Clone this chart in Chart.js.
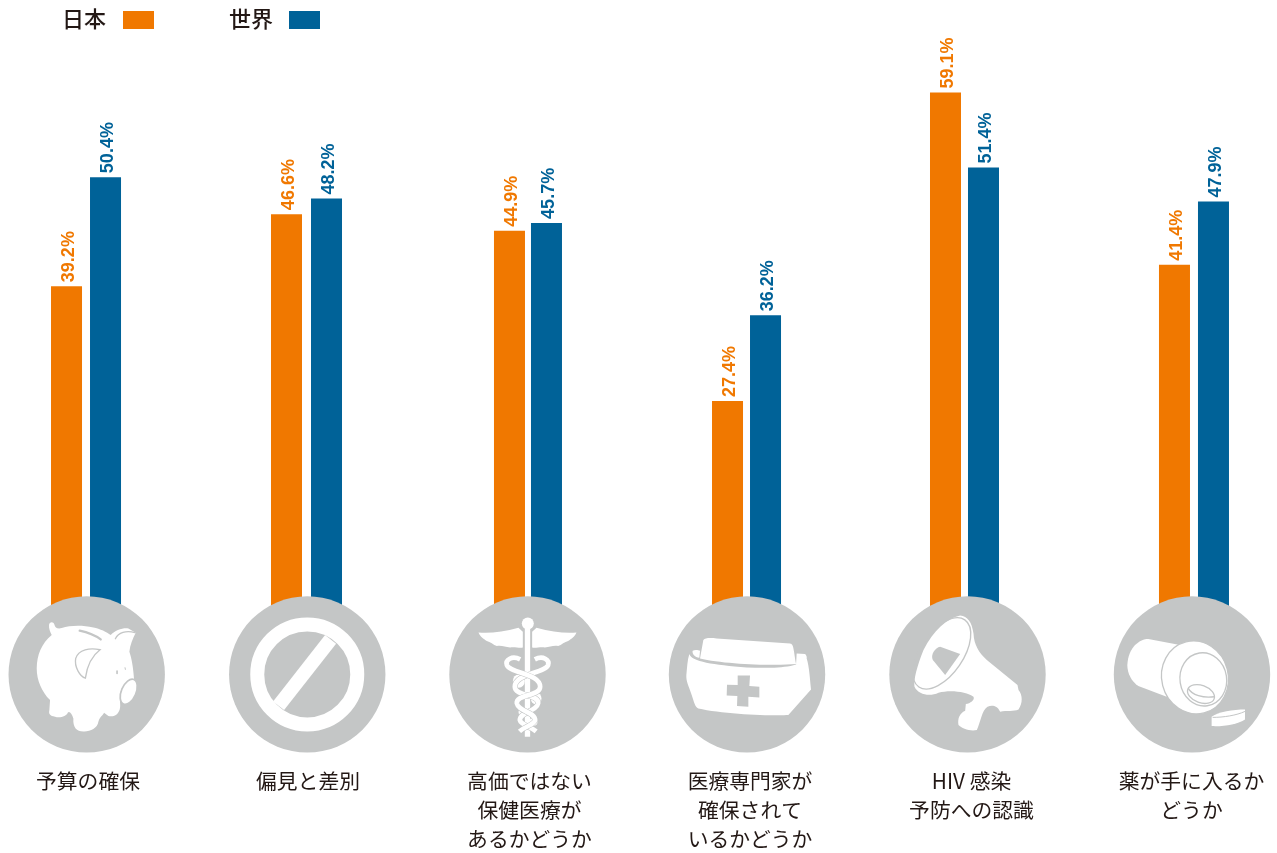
<!DOCTYPE html>
<html lang="ja">
<head>
<meta charset="utf-8">
<style>html,body{margin:0;padding:0;background:#fff}#w{width:1277px;height:853px;position:relative}</style>
<script src="https://cdn.jsdelivr.net/npm/chart.js@4"></script>
</head>
<body>
<div id="w"><canvas id="c"></canvas></div>
<script>
const categories = [
  ['予算の確保'],
  ['偏見と差別'],
  ['高価ではない','保健医療が','あるかどうか'],
  ['医療専門家が','確保されて','いるかどうか'],
  ['HIV 感染','予防への認識'],
  ['薬が手に入るか','どうか']
];
const japan = [39.2, 46.6, 44.9, 27.4, 59.1, 41.4];
const world = [50.4, 48.2, 45.7, 36.2, 51.4, 47.9];
const seriesNames = ['日本', '世界'];

const ORANGE = '#F07800', BLUE = '#006298', GREY = '#C4C6C6', INK = '#231815';
const CJK = '"Noto Sans CJK JP","Noto Sans",sans-serif';

// per-slot layout offsets from the evenly spaced category slots
const barShift = [[-20.4,-13.25,-3.1,2.1,7.25,23.4],[-20.4,-12.25,-5.1,1.1,6.25,23.4]];
const circleShift = [-19.7,-12,-4.6,2.1,9.75,21.4];
const textShift = [-18.4,-11.25,-2.6,5.1,13.75,20.9];
const iconOrigin = [[260,253],[922,253],[262,253],[921,253],[262,253],[936,253]];

function P(d){return new Path2D(d);}
const icons = [
  function(x){ // piggy bank
    x.fillStyle='#fff';
    x.fill(P('M147,105 C147,95 160,93 163,103 C165,112 172,118 185,114 C210,106 245,105 280,112 C300,116 320,125 332,135 C345,120 370,112 385,115 L407,128 C398,145 390,165 388,185 C395,205 400,235 402,268 C385,270 365,290 360,310 C358,330 362,345 360,352 C358,370 345,382 325,378 L312,368 C310,375 300,378 295,395 C292,415 270,425 250,424 C230,424 218,412 220,385 C215,370 208,362 203,368 C200,378 180,385 165,380 C150,378 145,372 148,360 L150,330 C125,305 110,270 110,235 C110,195 125,160 155,135 C150,125 146,115 147,105 Z'));
    x.strokeStyle=GREY; x.lineCap='round';
    x.lineWidth=7; x.stroke(P('M239,122 C262,127 285,136 302,148'));
    x.lineWidth=4;
    x.stroke(P('M300,179 C270,172 235,178 227,205 C222,230 240,260 256,264 C260,235 272,200 300,179 Z'));
    x.stroke(P('M346,146 C355,128 378,120 405,128'));
    x.lineWidth=5; x.beginPath(); x.moveTo(351,243); x.lineTo(351,250); x.stroke();
    x.lineWidth=3; x.beginPath(); x.moveTo(375,233); x.lineTo(376,238); x.stroke();
    x.lineWidth=5; x.fillStyle='#fff';
    x.beginPath(); x.ellipse(386,305,22,40,0.4,0,Math.PI*2); x.fill(); x.stroke();
  },
  function(x){ // prohibited
    x.strokeStyle='#fff'; x.lineWidth=42;
    x.beginPath(); x.arc(922,253,150,0,Math.PI*2); x.stroke();
    x.beginPath(); x.moveTo(992,148); x.lineTo(836,347); x.stroke();
  },
  function(x){ // caduceus
    x.fillStyle='#fff';
    x.fillRect(254,105,16,335);
    x.beginPath(); x.arc(263,100,18,0,Math.PI*2); x.fill();
    x.fill(P('M115,127 C150,130 190,125 235,113 L248,125 L248,172 C240,175 225,170 210,172 C195,172 185,165 170,168 C160,165 150,155 140,153 C130,145 120,140 115,127 Z'));
    x.fill(P('M409,127 C374,130 334,125 289,113 L276,125 L276,172 C284,175 299,170 314,172 C329,172 339,165 354,168 C364,165 374,155 384,153 C394,145 404,140 409,127 Z'));
    x.beginPath(); x.ellipse(236,273,18,20,0,0,Math.PI*2); x.fill();
    x.beginPath(); x.ellipse(288,325,16,18,0,0,Math.PI*2); x.fill();
    x.beginPath(); x.ellipse(248,366,13,13,0,0,Math.PI*2); x.fill();
    x.beginPath(); x.ellipse(280,395,12,12,0,0,Math.PI*2); x.fill();
    const s1='M240,208 C215,195 195,210 200,225 C210,250 300,250 300,290 C300,320 226,312 230,340 C235,365 285,365 285,390 C282,405 255,408 238,424';
    const s2='M284,208 C309,195 329,210 324,225 C314,250 224,250 224,290 C224,320 298,312 294,340 C289,365 239,365 239,390 C242,405 269,408 288,424';
    x.lineCap='butt'; x.strokeStyle=GREY; x.lineWidth=17; x.stroke(P(s2));
    x.strokeStyle='#fff'; x.lineWidth=14; x.stroke(P(s2));
    x.strokeStyle=GREY; x.lineWidth=17; x.stroke(P(s1));
    x.strokeStyle='#fff'; x.lineWidth=14; x.stroke(P(s1));
  },
  function(x){ // medical kit
    x.fillStyle='#fff';
    x.fill(P('M748,192 C755,215 820,225 920,232 C1000,236 1080,232 1100,205 C1108,230 1110,270 1113,298 L1045,375 C1000,378 850,372 775,355 C765,352 762,335 755,315 C745,285 738,275 739,255 C741,235 742,210 748,192 Z'));
    x.fill(P('M790,150 C795,143 810,143 830,145 L1050,160 C1060,162 1060,170 1068,222 C1000,228 850,222 780,205 Z'));
    x.fill(P('M758,182 C765,178 775,180 780,182 L778,203 C765,203 755,190 758,182 Z'));
    x.fill(P('M1070,190 L1095,192 C1100,195 1102,205 1098,212 C1090,222 1075,224 1068,224 Z'));
    x.fillStyle=GREY;
    x.fill(P('M893,256 L930,256 L928,288 L958,290 L958,322 L925,320 L925,350 L891,348 L892,318 L860,316 L861,284 L893,285 Z'));
  },
  function(x){ // megaphone
    x.fillStyle='#fff';
    x.fill(P('M240,76 C262,78 275,95 280,130 C282,165 295,185 320,210 L412,285 L415,300 C428,315 428,340 415,358 C400,365 380,360 360,365 C350,345 335,345 322,350 C305,360 300,400 290,420 C270,425 245,415 235,405 C232,385 238,370 255,362 L257,342 C270,340 285,330 280,320 C260,305 210,298 175,308 C150,320 115,315 103,290 C100,270 110,230 130,180 C160,120 200,85 240,76 Z'));
    x.strokeStyle=GREY; x.lineWidth=4;
    x.beginPath(); x.ellipse(185,190,64,122,0.6,0,Math.PI*2); x.stroke();
    x.fillStyle=GREY;
    x.fill(P('M180,170 L240,192 L195,255 L158,210 C150,195 165,172 180,170 Z'));
  },
  function(x){ // pill bottle
    x.fillStyle='#fff';
    x.fill(P('M805,147 C780,147 745,170 742,225 C742,250 755,275 775,288 L860,320 L900,165 Z'));
    x.strokeStyle=GREY; x.lineWidth=4;
    x.beginPath(); x.ellipse(945,262,100,110,-0.25,0,Math.PI*2); x.fill(); x.stroke();
    x.beginPath(); x.ellipse(970,268,70,80,-0.15,0,Math.PI*2); x.stroke();
    x.beginPath(); x.ellipse(963,312,42,26,0.35,0,Math.PI*2); x.stroke();
    x.stroke(P('M925,295 C935,315 970,325 1003,320'));
    x.fillStyle='#fff';
    x.fill(P('M995,380 C1015,365 1060,358 1095,358 L1095,388 C1075,402 1030,410 995,408 Z'));
    x.lineWidth=3; x.stroke(P('M998,382 C1030,382 1070,376 1095,364'));
  }
];

const decorations = {
  id: 'decorations',
  afterDatasetsUpdate(chart){
    chart.data.datasets.forEach((d,di)=>{
      chart.getDatasetMeta(di).data.forEach((el,i)=>{ el.x += barShift[di][i]; });
    });
  },
  afterDatasetsDraw(chart){
    const x = chart.ctx, xs = chart.scales.x;
    // value labels
    chart.data.datasets.forEach((d,di)=>{
      chart.getDatasetMeta(di).data.forEach((el,i)=>{
        x.save();
        x.translate(el.x+7.5, el.y-4);
        x.rotate(-Math.PI/2);
        x.font='bold 18px "Liberation Sans",Arial,sans-serif';
        x.fillStyle=d.backgroundColor;
        x.textAlign='left'; x.textBaseline='alphabetic';
        x.fillText(d.data[i].toFixed(1)+'%',0,0);
        x.restore();
      });
    });
    // icon discs and category text
    categories.forEach((lines,i)=>{
      const base = xs.getPixelForValue(i);
      const cx = base+circleShift[i], cy = 674.4;
      x.save();
      x.fillStyle=GREY;
      x.beginPath(); x.arc(cx,cy,78.2,0,Math.PI*2); x.fill();
      x.translate(cx,cy); x.scale(1/3,1/3);
      x.translate(-iconOrigin[i][0],-iconOrigin[i][1]);
      icons[i](x);
      x.restore();
      x.save();
      x.font='20.8px '+CJK; x.fillStyle=INK;
      x.textAlign='center'; x.textBaseline='middle';
      lines.forEach((t,k)=>x.fillText(t,base+textShift[i],781+k*29));
      x.restore();
    });
    // legend
    x.save();
    x.font='500 22px '+CJK; x.fillStyle=INK; x.textAlign='left'; x.textBaseline='middle';
    x.fillText(seriesNames[0],62,19); x.fillText(seriesNames[1],229,19);
    x.fillStyle=ORANGE; x.fillRect(123,11,31,18);
    x.fillStyle=BLUE; x.fillRect(289,11,31,18);
    x.restore();
  }
};

new Chart(document.getElementById('c'),{
  type:'bar',
  data:{
    labels:categories,
    datasets:[
      {label:seriesNames[0],data:japan,backgroundColor:ORANGE},
      {label:seriesNames[1],data:world,backgroundColor:BLUE}
    ]
  },
  options:{
    responsive:true,maintainAspectRatio:false,animation:false,
    categoryPercentage:0.3665,barPercentage:0.795,
    layout:{padding:{left:0,right:0,top:0,bottom:185.3}},
    plugins:{legend:{display:false},tooltip:{enabled:false}},
    scales:{
      x:{display:false,offset:true},
      y:{display:false,min:0,max:68.6}
    }
  },
  plugins:[decorations]
});
</script>
</body>
</html>
